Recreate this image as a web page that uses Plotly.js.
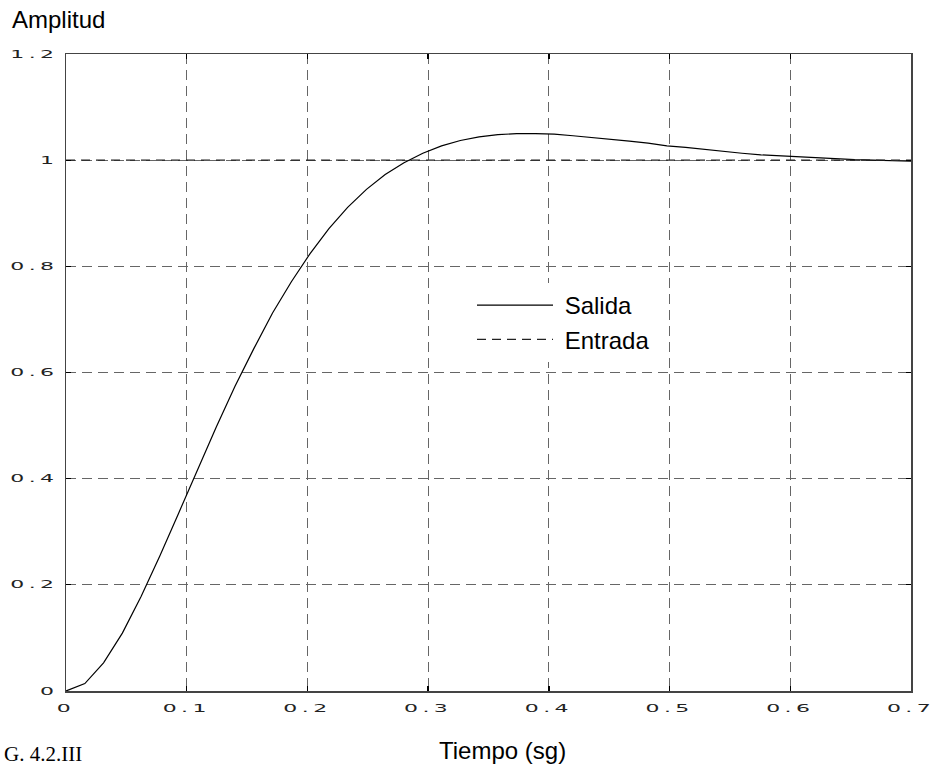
<!DOCTYPE html>
<html>
<head>
<meta charset="utf-8">
<script src="https://cdn.plot.ly/plotly-3.0.1.min.js"></script>
<style>
  html, body { margin: 0; padding: 0; background: #fff; }
  #chart { width: 940px; height: 769px; }
  .xtick text, .ytick text { letter-spacing: 2px; }
</style>
</head>
<body>
<div id="chart"></div>
<script>
// Step response of the closed-loop system (time in seconds)
const tiempo = [
  0.0000, 0.0156, 0.0311, 0.0467, 0.0622, 0.0778, 0.0933, 0.1089, 0.1244, 0.1400,
  0.1556, 0.1711, 0.1867, 0.2022, 0.2178, 0.2333, 0.2489, 0.2644, 0.2800, 0.2956,
  0.3111, 0.3267, 0.3422, 0.3578, 0.3733, 0.3889, 0.4044, 0.4200, 0.4356, 0.4511,
  0.4667, 0.4822, 0.4978, 0.5133, 0.5289, 0.5444, 0.5600, 0.5756, 0.5911, 0.6067,
  0.6222, 0.6378, 0.6533, 0.6689, 0.6844, 0.7000
];
const salida = [
  0.000, 0.014, 0.053, 0.109, 0.178, 0.255, 0.335, 0.417, 0.497, 0.574,
  0.645, 0.712, 0.771, 0.824, 0.871, 0.911, 0.945, 0.973, 0.995, 1.013,
  1.027, 1.037, 1.044, 1.048, 1.050, 1.050, 1.049, 1.046, 1.043, 1.040,
  1.036, 1.032, 1.027, 1.024, 1.020, 1.016, 1.013, 1.010, 1.008, 1.006,
  1.004, 1.002, 1.001, 1.000, 0.999, 0.998
];
// Unit step input
const entradaT = [0, 0.7];
const entrada = [1, 1];

const xTicks = [0, 0.1, 0.2, 0.3, 0.4, 0.5, 0.6, 0.7];
const yTicks = [0, 0.2, 0.4, 0.6, 0.8, 1, 1.2];

const traces = [
  {
    x: tiempo, y: salida, name: '\u00a0Salida', type: 'scatter', mode: 'lines',
    legendgroup: 'a',
    line: { color: '#000', width: 1.2 }
  },
  {
    x: entradaT, y: entrada, name: '\u00a0Entrada', type: 'scatter', mode: 'lines',
    legendgroup: 'b',
    line: { color: '#222', width: 1.2, dash: '9px,6px' }
  }
];

const tickFont = { family: 'DejaVu Sans, sans-serif', size: 10, color: '#222' };

const axisCommon = {
  showline: true, linecolor: '#444', linewidth: 1.5, mirror: 'ticks',
  ticks: 'inside', ticklen: 5, tickcolor: '#000', tickwidth: 1.3,
  showgrid: true, gridcolor: '#666', gridwidth: 1, griddash: '10px,6px',
  zeroline: false, tickfont: tickFont, fixedrange: true
};

const layout = {
  width: 940, height: 769,
  margin: { l: 66, r: 29, t: 54, b: 78 },
  paper_bgcolor: '#fff', plot_bgcolor: '#fff',
  font: { family: 'Liberation Sans, Arial, sans-serif', color: '#000' },
  title: {
    text: 'Amplitud', font: { size: 24, color: '#000' },
    xref: 'container', yref: 'container',
    x: 12 / 940, xanchor: 'left', y: 1 - 20 / 769, yanchor: 'middle'
  },
  xaxis: Object.assign({}, axisCommon, {
    range: [0, 0.7], tickvals: xTicks, ticktext: xTicks.map(String),
    ticklabelstandoff: 8
  }),
  yaxis: Object.assign({}, axisCommon, {
    range: [0, 1.2], tickvals: yTicks, ticktext: yTicks.map(String),
    ticklabelstandoff: 4
  }),
  showlegend: true,
  legend: {
    x: (472 - 66) / 845, y: 1 - (283 - 54) / 637, xanchor: 'left', yanchor: 'top',
    bgcolor: '#fff', borderwidth: 0,
    font: { size: 24, color: '#000' },
    traceorder: 'grouped', tracegroupgap: 0, itemwidth: 76
  },
  annotations: [
    {
      text: 'Tiempo (sg)', xref: 'paper', yref: 'paper',
      x: (502 - 66) / 845, y: -(750 - 691) / 637, xanchor: 'center', yanchor: 'middle',
      showarrow: false, font: { size: 24, color: '#000' }
    },
    {
      text: 'G. 4.2.III', xref: 'paper', yref: 'paper',
      x: -64 / 845, y: -(768 - 691) / 637, xanchor: 'left', yanchor: 'bottom',
      showarrow: false,
      font: { family: 'Liberation Serif, Times New Roman, serif', size: 21, color: '#000' }
    }
  ]
};

// Tick labels are drawn in a wide, flat lettering: stretch each one
// horizontally about its own anchor point.
function widenTickLabels(gd) {
  gd.querySelectorAll('.xtick text, .ytick text').forEach(function (t) {
    const x = parseFloat(t.getAttribute('x')) || 0;
    const y = parseFloat(t.getAttribute('y')) || 0;
    const tr = t.getAttribute('transform') || '';
    t.setAttribute('transform',
      tr + ' translate(' + x + ',' + y + ') scale(2.2,1) translate(' + (-x) + ',' + (-y) + ')');
  });
}

Plotly.newPlot('chart', traces, layout, { staticPlot: true, displayModeBar: false })
  .then(widenTickLabels);
</script>
</body>
</html>
